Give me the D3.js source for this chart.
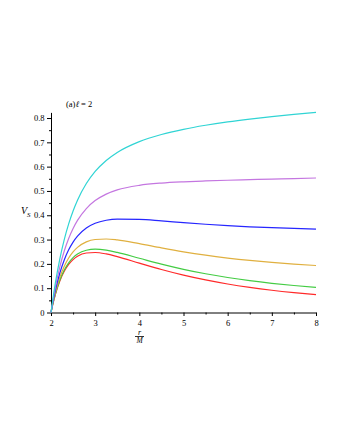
<!DOCTYPE html>
<html>
<head>
<meta charset="utf-8">
<script src="https://cdn.jsdelivr.net/npm/d3@7"></script>
<style>
  html, body { margin: 0; padding: 0; background: #fff; }
  text { font-family: "Liberation Serif", "DejaVu Serif", serif; }
</style>
</head>
<body>
<div id="chart"></div>
<script>
// r/M sample points along the curves
const rValues = [2, 2.05, 2.1, 2.2, 2.3, 2.4, 2.5, 2.6, 2.8, 3, 3.25, 3.5, 4, 4.5, 5, 5.5, 6, 6.5, 7, 7.5, 8]

// V_S, one array per curve (bottom to top)
const redValues    = [0, 0.0405, 0.0751, 0.1298, 0.1694, 0.1977, 0.2176, 0.2311, 0.2447, 0.2469, 0.2409, 0.2299, 0.2031, 0.1768, 0.1536, 0.1339, 0.1173, 0.1034, 0.0916, 0.0817, 0.0732]
const greenValues  = [0, 0.0415, 0.0770, 0.1334, 0.1746, 0.2044, 0.2256, 0.2403, 0.2561, 0.2603, 0.2563, 0.2471, 0.2231, 0.1990, 0.1776, 0.1593, 0.1440, 0.1311, 0.1202, 0.1110, 0.1032]
const orangeValues = [0, 0.0444, 0.0827, 0.1443, 0.1903, 0.2244, 0.2496, 0.2680, 0.2904, 0.3003, 0.3024, 0.2985, 0.2831, 0.2657, 0.2496, 0.2357, 0.2240, 0.2141, 0.2059, 0.1990, 0.1932]
const blueValues   = [0, 0.0493, 0.0922, 0.1625, 0.2163, 0.2577, 0.2896, 0.3142, 0.3476, 0.3669, 0.3794, 0.3842, 0.3831, 0.3768, 0.3696, 0.3630, 0.3573, 0.3526, 0.3488, 0.3457, 0.3432]
const purpleValues = [0, 0.0561, 0.1056, 0.1880, 0.2529, 0.3044, 0.3456, 0.3788, 0.4276, 0.4603, 0.4870, 0.5042, 0.5231, 0.5324, 0.5376, 0.5411, 0.5440, 0.5464, 0.5488, 0.5510, 0.5532]
const cyanValues   = [0, 0.0649, 0.1227, 0.2207, 0.2998, 0.3644, 0.4176, 0.4619, 0.5304, 0.5803, 0.6255, 0.6585, 0.7031, 0.7324, 0.7536, 0.7702, 0.7840, 0.7957, 0.8059, 0.8150, 0.8232]

const seriesList = [
  { name: 'red', values: redValues, color: '#ff2a2a' },
  { name: 'green', values: greenValues, color: '#44cc44' },
  { name: 'orange', values: orangeValues, color: '#e0b040' },
  { name: 'blue', values: blueValues, color: '#2626ff' },
  { name: 'purple', values: purpleValues, color: '#c476e0' },
  { name: 'cyan', values: cyanValues, color: '#30d4d4' }
]

const xTicks = [2, 3, 4, 5, 6, 7, 8]
const xMinorTicks = [2.5, 3.5, 4.5, 5.5, 6.5, 7.5]
const yTicks = [0, 0.1, 0.2, 0.3, 0.4, 0.5, 0.6, 0.7, 0.8]
const yMinorTicks = [0.05, 0.15, 0.25, 0.35, 0.45, 0.55, 0.65, 0.75]

const width = 340
const height = 440

const svg = d3.select('#chart')
  .append('svg')
  .attr('width', width)
  .attr('height', height)

svg.append('rect').attr('width', width).attr('height', height).attr('fill', '#fff')

// scales: the y axis runs up to the top of the highest curve
const yTop = d3.max(cyanValues)
const x = d3.scaleLinear().domain([2, 8]).range([51, 316])
const y = d3.scaleLinear().domain([0, yTop]).range([312.5, 312.5 - 243.1 * yTop])

// minor ticks first, so the major axes sit on top
svg.append('g')
  .attr('transform', 'translate(0,312.5)')
  .call(d3.axisBottom(x).tickValues(xMinorTicks).tickSize(2).tickFormat(''))
  .call(g => g.select('.domain').remove())

svg.append('g')
  .attr('transform', 'translate(51,0)')
  .call(d3.axisLeft(y).tickValues(yMinorTicks).tickSize(2).tickFormat(''))
  .call(g => g.select('.domain').remove())

const xAxis = svg.append('g')
  .attr('transform', 'translate(0,312.5)')
  .call(d3.axisBottom(x).tickValues(xTicks).tickSize(3.5).tickSizeOuter(0).tickPadding(3.5).tickFormat(d3.format('d')))

const yAxis = svg.append('g')
  .attr('transform', 'translate(51,0)')
  .call(d3.axisLeft(y).tickValues(yTicks).tickSize(4).tickSizeOuter(0).tickPadding(2.5).tickFormat(d => d === 0 ? '0' : d3.format('.1f')(d)))

svg.selectAll('.tick text')
  .attr('font-family', '"Liberation Serif", serif')
  .attr('font-size', 8.5)
  .attr('fill', '#000')
svg.selectAll('.domain, .tick line').attr('stroke', '#000').attr('stroke-width', 1)

// curves
const line = d3.line()
  .x((d, i) => x(rValues[i]))
  .y(d => y(d))
  .curve(d3.curveMonotoneX)

svg.append('g')
  .selectAll('path')
  .data(seriesList)
  .join('path')
  .attr('d', d => line(d.values))
  .attr('fill', 'none')
  .attr('stroke', d => d.color)
  .attr('stroke-width', 1.2)

// title
const title = svg.append('text')
  .attr('x', 66)
  .attr('y', 107)
  .attr('font-size', 8.5)
  .attr('fill', '#000')
title.append('tspan').text('(a)')
title.append('tspan').attr('font-style', 'italic').text('ℓ')
title.append('tspan').text(' = 2')

// y label V_S
const yLabel = svg.append('text')
  .attr('x', 21)
  .attr('y', 214)
  .attr('font-size', 10)
  .attr('font-style', 'italic')
  .attr('fill', '#000')
yLabel.append('tspan').text('V')
yLabel.append('tspan').attr('font-size', 7).attr('dy', 2.5).text('S')

// x label r / M
svg.append('text')
  .attr('x', 139.5).attr('y', 334.5)
  .attr('text-anchor', 'middle')
  .attr('font-size', 8)
  .attr('font-style', 'italic')
  .text('r')
svg.append('line')
  .attr('x1', 135).attr('x2', 144)
  .attr('y1', 336.5).attr('y2', 336.5)
  .attr('stroke', '#000').attr('stroke-width', 0.8)
svg.append('text')
  .attr('x', 139.5).attr('y', 342.5)
  .attr('text-anchor', 'middle')
  .attr('font-size', 7.5)
  .attr('font-style', 'italic')
  .text('M')
</script>
</body>
</html>
